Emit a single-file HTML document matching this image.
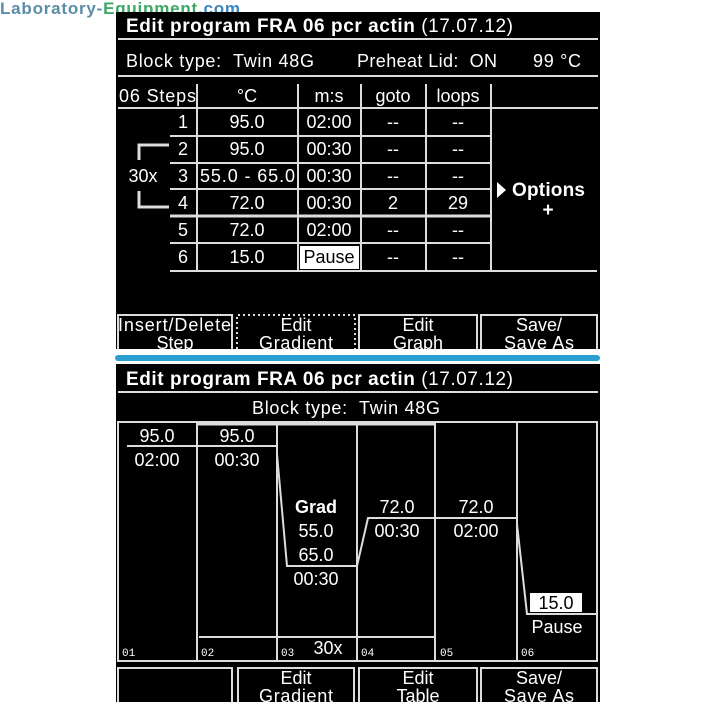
<!DOCTYPE html>
<html><head><meta charset="utf-8"><style>
html,body{margin:0;padding:0;background:#fff;width:715px;height:715px;overflow:hidden}
svg{display:block}
text{font-family:"Liberation Sans",sans-serif;fill:#fff;font-size:18px;white-space:pre}
.c{text-anchor:middle}
.b{font-weight:bold}
.s{font-size:11px;font-family:"Liberation Mono",monospace}
</style></head><body>
<svg width="715" height="715" viewBox="0 0 715 715" xmlns="http://www.w3.org/2000/svg">
<text x="0" y="14" textLength="240" style="font-size:17px;font-weight:bold"><tspan style="fill:#5b8ca8">Laboratory-</tspan><tspan style="fill:#3da865">Equipment</tspan><tspan style="fill:#3a86c0">.com</tspan></text>
<!-- top screen -->
<rect x="116" y="12" width="484" height="337" fill="#000"/>
<text x="126" y="32" class="b" style="font-size:19px" textLength="387">Edit program FRA 06 pcr actin <tspan style="font-weight:normal">(17.07.12)</tspan></text>
<g stroke="#ddd" stroke-width="2" fill="none">
<line x1="118" y1="39" x2="598" y2="39"/>
<line x1="118" y1="76" x2="598" y2="76"/>
<line x1="118" y1="108" x2="598" y2="108"/>
<line x1="197" y1="84" x2="197" y2="271"/>
<line x1="298" y1="84" x2="298" y2="271"/>
<line x1="361" y1="84" x2="361" y2="271"/>
<line x1="426" y1="84" x2="426" y2="271"/>
<line x1="491" y1="84" x2="491" y2="271"/>
<line x1="170" y1="136" x2="491" y2="136"/>
<line x1="170" y1="163" x2="491" y2="163"/>
<line x1="170" y1="189" x2="491" y2="189"/>
<line x1="170" y1="216" x2="491" y2="216" stroke-width="3"/>
<line x1="170" y1="243" x2="491" y2="243"/>
<line x1="170" y1="271" x2="597" y2="271"/>
<polyline points="169,145 139,145 139,160" stroke-width="3"/>
<polyline points="139,191 139,207 169,207" stroke-width="3"/>
</g>
<text x="126" y="67" textLength="188">Block type:  Twin 48G</text>
<text x="357" y="67" textLength="140">Preheat Lid:  ON</text>
<text x="533" y="67" textLength="48">99 °C</text>
<text x="119" y="102" textLength="77">06 Steps</text>
<text x="247" y="102" class="c">°C</text>
<text x="329" y="102" class="c">m:s</text>
<text x="393" y="102" class="c">goto</text>
<text x="458" y="102" class="c">loops</text>
<g>
<text x="183" y="128" class="c">1</text><text x="247" y="128" class="c">95.0</text><text x="329" y="128" class="c">02:00</text><text x="393" y="128" class="c">--</text><text x="458" y="128" class="c">--</text>
<text x="183" y="155" class="c">2</text><text x="247" y="155" class="c">95.0</text><text x="329" y="155" class="c">00:30</text><text x="393" y="155" class="c">--</text><text x="458" y="155" class="c">--</text>
<text x="183" y="182" class="c">3</text><text x="200" y="182" textLength="95">55.0 - 65.0</text><text x="329" y="182" class="c">00:30</text><text x="393" y="182" class="c">--</text><text x="458" y="182" class="c">--</text>
<text x="183" y="209" class="c">4</text><text x="247" y="209" class="c">72.0</text><text x="329" y="209" class="c">00:30</text><text x="393" y="209" class="c">2</text><text x="458" y="209" class="c">29</text>
<text x="183" y="236" class="c">5</text><text x="247" y="236" class="c">72.0</text><text x="329" y="236" class="c">02:00</text><text x="393" y="236" class="c">--</text><text x="458" y="236" class="c">--</text>
<text x="183" y="263" class="c">6</text><text x="247" y="263" class="c">15.0</text><text x="393" y="263" class="c">--</text><text x="458" y="263" class="c">--</text>
</g>
<rect x="300" y="246" width="59" height="23" fill="#fff"/>
<text x="329" y="263" class="c" style="fill:#000">Pause</text>
<text x="143" y="182" class="c">30x</text>
<polygon points="497,182 506,190 497,198" fill="#fff"/>
<text x="512" y="196" class="b" style="font-size:19px" textLength="73">Options</text>
<text x="548" y="216" class="c b" style="font-size:19px">+</text>
<g stroke="#ddd" stroke-width="2" fill="none">
<polyline points="118,349 118,315 232,315 232,349"/>
<polyline points="237,349 237,315 355,315 355,349" stroke-dasharray="2,3"/>
<polyline points="359,349 359,315 477,315 477,349"/>
<polyline points="481,349 481,315 597,315 597,349"/>
</g>
<text x="118" y="331" textLength="113">Insert/Delete</text><text x="175" y="349" class="c">Step</text>
<text x="296" y="331" class="c">Edit</text><text x="296" y="349" class="c" textLength="74">Gradient</text>
<text x="418" y="331" class="c">Edit</text><text x="418" y="349" class="c">Graph</text>
<text x="539" y="331" class="c">Save/</text><text x="539" y="349" class="c" textLength="70">Save As</text>
<rect x="115" y="355" width="485" height="6" rx="3" fill="#2a9fd0"/>
<!-- bottom screen -->
<rect x="116" y="364" width="484" height="338" fill="#000"/>
<text x="126" y="385" class="b" style="font-size:19px" textLength="387">Edit program FRA 06 pcr actin <tspan style="font-weight:normal">(17.07.12)</tspan></text>
<text x="252" y="414" textLength="188">Block type:  Twin 48G</text>
<g stroke="#ddd" stroke-width="2" fill="none">
<line x1="118" y1="392" x2="598" y2="392"/>
<rect x="118" y="422" width="479" height="239"/>
<line x1="197" y1="422" x2="197" y2="661"/>
<line x1="277" y1="423" x2="277" y2="661"/>
<line x1="357" y1="423" x2="357" y2="661"/>
<line x1="435" y1="423" x2="435" y2="661"/>
<line x1="517" y1="422" x2="517" y2="661"/>
<line x1="197" y1="424" x2="435" y2="424" stroke-width="3"/>
<line x1="199" y1="637" x2="435" y2="637" stroke-width="2"/>
<line x1="127" y1="446" x2="277" y2="446"/>
<polyline points="277,454 287,566 357,566 368,518 517,518 517,524 527,614 597,614"/>
</g>
<g>
<text x="157" y="442" class="c">95.0</text><text x="157" y="466" class="c">02:00</text>
<text x="237" y="442" class="c">95.0</text><text x="237" y="466" class="c">00:30</text>
<text x="316" y="513" class="c b">Grad</text><text x="316" y="537" class="c">55.0</text><text x="316" y="561" class="c">65.0</text><text x="316" y="585" class="c">00:30</text>
<text x="397" y="513" class="c">72.0</text><text x="397" y="537" class="c">00:30</text>
<text x="476" y="513" class="c">72.0</text><text x="476" y="537" class="c">02:00</text>
</g>
<rect x="530" y="593" width="52" height="19" fill="#fff"/>
<text x="556" y="609" class="c" style="fill:#000">15.0</text>
<text x="557" y="633" class="c">Pause</text>
<text x="122" y="656" class="s">01</text><text x="201" y="656" class="s">02</text><text x="281" y="656" class="s">03</text><text x="361" y="656" class="s">04</text><text x="440" y="656" class="s">05</text><text x="521" y="656" class="s">06</text>
<text x="328" y="654" class="c">30x</text>
<g stroke="#ddd" stroke-width="2" fill="none">
<polyline points="118,702 118,668 232,668 232,702"/>
<polyline points="238,702 238,668 354,668 354,702"/>
<polyline points="359,702 359,668 477,668 477,702"/>
<polyline points="481,702 481,668 597,668 597,702"/>
</g>
<text x="296" y="684" class="c">Edit</text><text x="296" y="702" class="c" textLength="74">Gradient</text>
<text x="418" y="684" class="c">Edit</text><text x="418" y="702" class="c">Table</text>
<text x="539" y="684" class="c">Save/</text><text x="539" y="702" class="c" textLength="70">Save As</text>
</svg>
</body></html>
